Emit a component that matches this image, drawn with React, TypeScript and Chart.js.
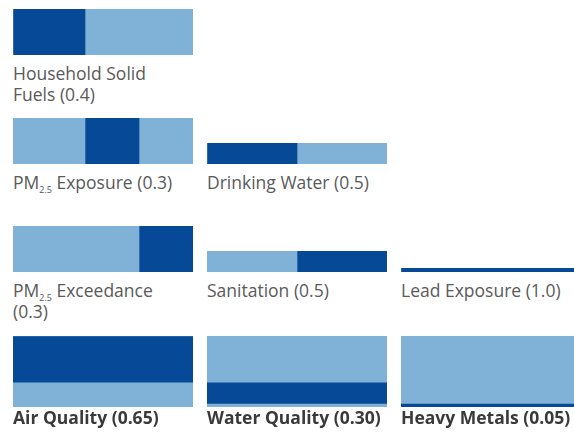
import React, { useEffect, useRef } from 'react';
import { Chart, registerables } from 'chart.js';

Chart.register(...registerables);

// ---------- data ----------
const categoryNames = ['Air Quality', 'Water Quality', 'Heavy Metals'];
const categoryWeights = [0.65, 0.3, 0.05];

const airIndicators = ['Household Solid\nFuels', 'PM2.5 Exposure', 'PM2.5 Exceedance'];
const airWeights = [0.4, 0.3, 0.3];

const waterIndicators = ['Drinking Water', 'Sanitation'];
const waterWeights = [0.5, 0.5];

const metalIndicators = ['Lead Exposure'];
const metalWeights = [1.0];

// ---------- styles ----------
const DARK = '#064a97';
const LIGHT = '#80b1d7';
const FONT = '"Open Sans", "Noto Sans", sans-serif';
const COL_LEFT = [13, 207, 401];
const COL_WIDTH = 180;
const LABEL_WIDTH = 172;
const ROW_BOTTOM = [55, 164, 272];
const LABEL_GAP = 8;
const UNIT_PX = 71;
const TOTAL_TOP = 336;

const cumulativeStarts = (w: number[]) => {
  const out: number[] = [];
  let s = 0;
  for (const v of w) {
    out.push(s);
    s += v;
  }
  return out;
};

function ShareBar(props: {
  start: number;
  share: number;
  width: number;
  height: number;
  vertical?: boolean;
  left: number;
  top: number;
}) {
  const ref = useRef<HTMLCanvasElement>(null);
  const { start, share, width, height, vertical, left, top } = props;
  useEffect(() => {
    const rest = Math.max(0, 1 - start - share);
    const chart = new Chart(ref.current!, {
      type: 'bar',
      data: {
        labels: [''],
        datasets: [
          { data: [start], backgroundColor: LIGHT },
          { data: [share], backgroundColor: DARK },
          { data: [rest], backgroundColor: LIGHT },
        ],
      },
      options: {
        indexAxis: vertical ? 'x' : 'y',
        responsive: false,
        animation: false,
        events: [],
        layout: { padding: 0 },
        plugins: { legend: { display: false }, tooltip: { enabled: false } },
        datasets: { bar: { barPercentage: 1, categoryPercentage: 1, borderWidth: 0 } },
        scales: vertical
          ? {
              x: { stacked: true, display: false },
              y: { stacked: true, display: false, min: 0, max: 1, reverse: true },
            }
          : {
              x: { stacked: true, display: false, min: 0, max: 1 },
              y: { stacked: true, display: false },
            },
      } as any,
    });
    return () => chart.destroy();
  }, [start, share, width, height, vertical]);
  return (
    <canvas
      ref={ref}
      width={width}
      height={height}
      style={{ position: 'absolute', left, top, width, height, display: 'block' }}
    />
  );
}

function RichName({ text }: { text: string }) {
  const parts = text.split('PM2.5');
  const out: React.ReactNode[] = [];
  parts.forEach((p, i) => {
    if (i > 0)
      out.push(
        <span key={'pm' + i}>
          PM
          <span style={{ fontSize: 9, verticalAlign: -4, lineHeight: 0 }}>2.5</span>
        </span>
      );
    out.push(<span key={'t' + i}>{p}</span>);
  });
  return <>{out}</>;
}

export default function App() {
  const groups = [
    { names: airIndicators, weights: airWeights },
    { names: waterIndicators, weights: waterWeights },
    { names: metalIndicators, weights: metalWeights },
  ];
  const catStarts = cumulativeStarts(categoryWeights);
  const elements: React.ReactNode[] = [];

  groups.forEach((g, c) => {
    const starts = cumulativeStarts(g.weights);
    const h = Math.round(categoryWeights[c] * UNIT_PX);
    const n = g.names.length;
    g.names.forEach((name, i) => {
      const row = 3 - n + i;
      const bottom = ROW_BOTTOM[row];
      elements.push(
        <ShareBar
          key={`b${c}-${i}`}
          start={starts[i]}
          share={g.weights[i]}
          width={COL_WIDTH}
          height={h}
          left={COL_LEFT[c]}
          top={bottom - h}
        />
      );
      elements.push(
        <div
          key={`l${c}-${i}`}
          style={{
            position: 'absolute',
            left: COL_LEFT[c],
            top: bottom + LABEL_GAP,
            width: LABEL_WIDTH,
            fontSize: 17.5,
            lineHeight: '21px',
            color: '#5a5a5a',
            whiteSpace: 'pre-line',
          }}
        >
          <RichName text={name} /> ({g.weights[i].toFixed(1)})
        </div>
      );
    });
    elements.push(
      <ShareBar
        key={`cat${c}`}
        start={catStarts[c]}
        share={categoryWeights[c]}
        width={COL_WIDTH}
        height={UNIT_PX}
        vertical
        left={COL_LEFT[c]}
        top={TOTAL_TOP}
      />
    );
    elements.push(
      <div
        key={`cl${c}`}
        style={{
          position: 'absolute',
          left: COL_LEFT[c],
          top: TOTAL_TOP + UNIT_PX - 1,
          width: 200,
          fontSize: 17.5,
          fontWeight: 700,
          lineHeight: '22px',
          color: '#3a3a3a',
          whiteSpace: 'nowrap',
        }}
      >
        {categoryNames[c]} ({categoryWeights[c].toFixed(2)})
      </div>
    );
  });

  return (
    <div
      style={{
        position: 'absolute',
        left: 0,
        top: 0,
        width: 574,
        height: 435,
        overflow: 'hidden',
        background: '#fff',
        fontFamily: FONT,
      }}
    >
      {elements}
    </div>
  );
}
